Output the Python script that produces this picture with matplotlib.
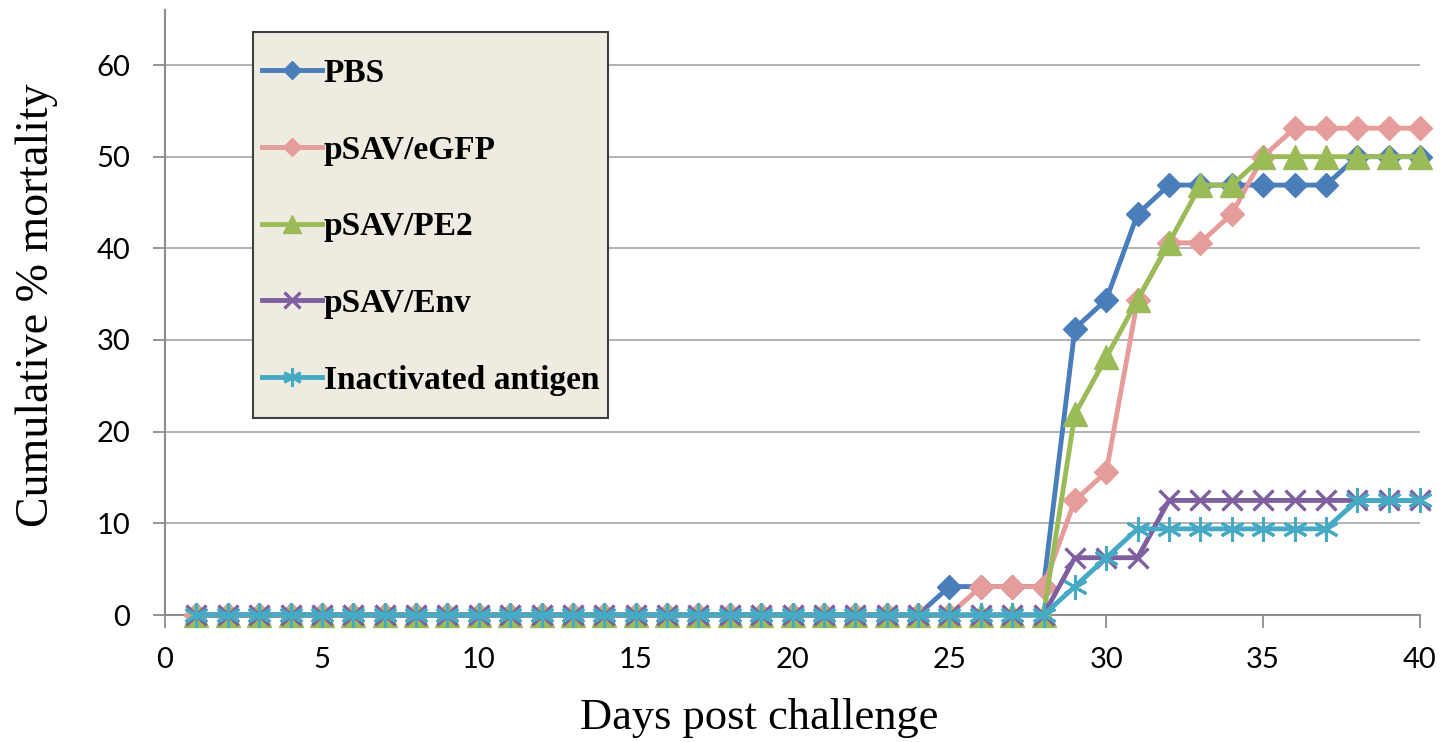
import numpy as np
import matplotlib
matplotlib.use("Agg")
import matplotlib.pyplot as plt
from matplotlib.patches import Rectangle

# Days post challenge
days = list(range(1, 41))

# cumulative % mortality
pbs = [0] * 24 + [3.1, 3.1, 3.1, 3.1, 31.25, 34.4, 43.75, 46.9, 46.9, 46.9,
                  46.9, 46.9, 46.9, 50, 50, 50]
egfp = [0] * 25 + [3.1, 3.1, 3.1, 12.5, 15.6, 34.4, 40.6, 40.6, 43.75,
                   50, 53.1, 53.1, 53.1, 53.1, 53.1]
pe2 = [0] * 28 + [21.9, 28.1, 34.4, 40.6, 46.9, 46.9, 50, 50, 50, 50, 50, 50]
env = [0] * 28 + [6.25, 6.25, 6.25, 12.5, 12.5, 12.5, 12.5, 12.5, 12.5,
                  12.5, 12.5, 12.5]
inact = [0] * 28 + [3.1, 6.25, 9.4, 9.4, 9.4, 9.4, 9.4, 9.4, 9.4,
                    12.5, 12.5, 12.5]

labels = ["PBS", "pSAV/eGFP", "pSAV/PE2", "pSAV/Env", "Inactivated antigen"]
colors = ["#4A7EBB", "#E59C9A", "#9BBB59", "#7F5FA0", "#46AAC5"]

W, H = 1451, 742
fig = plt.figure(figsize=(W / 100, H / 100), dpi=100)
ax = fig.add_axes([165 / W, 1 - 615 / H, 1255 / W, 605 / H])

lw = 3.5
kw = dict(lw=lw, clip_on=False, zorder=3)
ax.plot(days, pbs, color=colors[0], marker="D", ms=12, label=labels[0], **kw)
ax.plot(days, egfp, color=colors[1], marker="D", ms=12, label=labels[1], **kw)
ax.plot(days, pe2, color=colors[2], marker="^", ms=17, label=labels[2], **kw)
ax.plot(days, env, color=colors[3], marker="x", ms=15, mew=2.4,
        label=labels[3], **kw)
ax.plot(days, inact, color=colors[4], marker=(6, 2, 0), ms=18, mew=2.2,
        label=labels[4], **kw)

ax.set_xlim(0, 40)
ax.set_ylim(0, 66)
ax.set_xticks(range(0, 41, 5))
ax.set_yticks(range(0, 61, 10))
ax.yaxis.grid(True, color="#A6A6A6", lw=1.2)
ax.set_axisbelow(True)

for s in ["top", "right"]:
    ax.spines[s].set_visible(False)
for s in ["left", "bottom"]:
    ax.spines[s].set_color("#8C8C8C")
    ax.spines[s].set_linewidth(1.5)
    ax.spines[s].set_zorder(1)

ax.tick_params(axis="both", colors="#8C8C8C", length=9, width=1.3,
               labelcolor="black", labelsize=21)
for t in ax.get_xticklabels() + ax.get_yticklabels():
    t.set_family("Lato")
ax.tick_params(axis="x", pad=14)
ax.tick_params(axis="y", pad=16)

# axis titles
fig.text(759 / W, 1 - 718 / H, "Days post challenge", family="Liberation Serif",
         fontsize=32, ha="center", va="center")
fig.text(37 / W, 1 - 305 / H, "Cumulative % mortality", family="Liberation Serif",
         fontsize=33, rotation=90, ha="center", va="center")

# legend box
box = Rectangle((253 / W, 1 - 418 / H), 355 / W, 386 / H,
                transform=fig.transFigure, facecolor="#EEECE1",
                edgecolor="#404040", lw=1.5, zorder=4, clip_on=False)
ax.add_patch(box)
leg = ax.legend(loc="upper left", bbox_to_anchor=(262 / W, 1 - 58 / H),
                bbox_transform=fig.transFigure,
                prop={"family": "Liberation Serif", "weight": "bold", "size": 24},
                frameon=False, handlelength=1.8, handletextpad=0.05,
                labelspacing=1.37, borderpad=0, borderaxespad=0,
                markerscale=0.75)
leg.set_zorder(5)

fig.savefig("out.png", dpi=100)
